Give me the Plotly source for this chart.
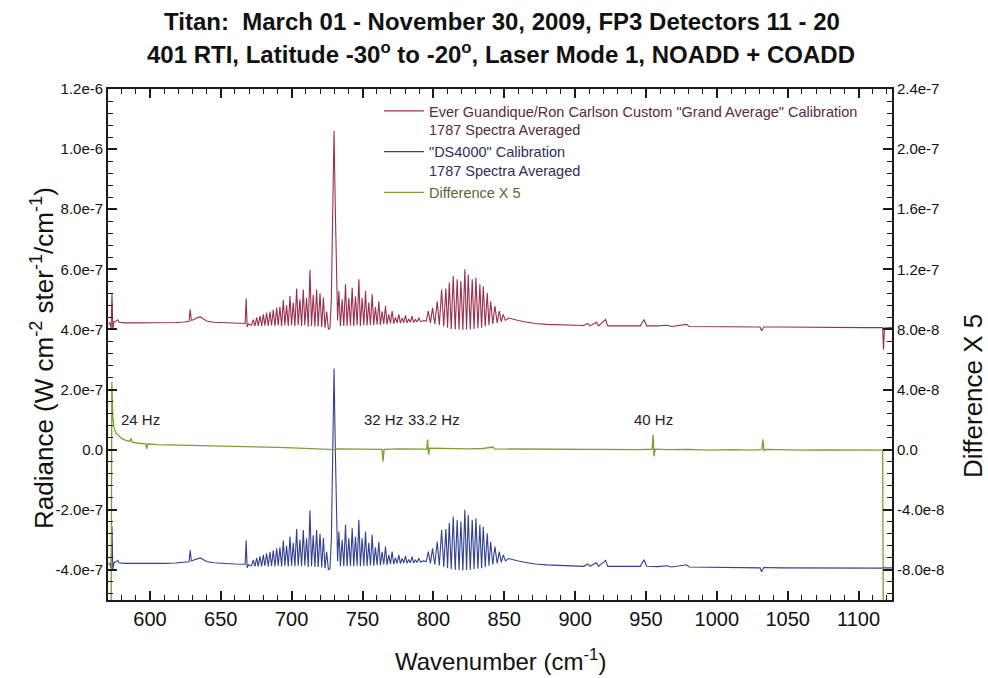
import plotly.graph_objects as go
import numpy as np

# ---------------- data ----------------
# wavenumbers (cm^-1) shared by the two calibrated spectra
WAVENUMBER = [
    570.8, 571.6, 572.6, 573.2, 573.8, 574.6, 576.0, 577.3, 578.2, 582,
    590, 600, 610, 618, 624, 627.6, 628.4, 629.2, 631, 633.5,
    635.5, 637.5, 640, 645, 652, 660, 667.2, 667.9, 668.6, 669.5,
    670.8, 671.7, 672.9, 674.1, 675.3, 676.4, 677.6, 678.8, 680.0, 681.1,
    682.3, 683.5, 684.7, 685.8, 687.0, 688.2, 689.4, 690.5, 691.7, 692.9,
    694.1, 695.2, 696.4, 697.6, 698.8, 699.9, 701.1, 702.3, 703.5, 704.6,
    705.8, 707.0, 708.2, 709.3, 710.5, 711.7, 712.9, 714.0, 715.2, 716.4,
    717.6, 718.7, 720.0, 721.2, 722.4, 723.5, 724.7, 725.9, 727.0, 728.0,
    729.0, 729.9, 730.8, 731.7, 732.4, 733.3, 734.4, 735.6, 736.8, 738.0,
    739.1, 740.3, 741.5, 742.7, 743.8, 745.0, 746.2, 747.4, 748.5, 749.7,
    750.9, 752.1, 753.2, 754.4, 755.6, 756.8, 757.9, 759.1, 760.3, 761.5,
    762.6, 763.8, 765.0, 766.2, 767.3, 768.5, 769.7, 770.9, 772.0, 773.2,
    774.4, 775.6, 776.7, 777.9, 779.1, 780.3, 781.4, 782.6, 783.8, 785.0,
    786.1, 787.3, 788.5, 789.7, 790.9, 793, 795.0, 796.4, 797.9, 799.4,
    801.0, 802.7, 804.2, 805.8, 807.3, 808.8, 810.0, 811.2, 812.6, 814.0,
    815.4, 816.8, 818.1, 819.4, 820.8, 822.2, 823.4, 824.6, 826.0, 827.4,
    828.7, 830.0, 831.4, 832.8, 834.0, 835.2, 836.6, 838.0, 839.2, 840.4,
    841.9, 843.4, 845.0, 846.5, 847.9, 849.3, 850.8, 853, 856, 860,
    865, 872, 880, 890, 900, 906, 909.0, 910.5, 915.0, 916.5,
    921.5, 923.0, 930, 938, 946, 948.6, 950.5, 958, 965, 968,
    978.6, 980.5, 990, 1000, 1012, 1022, 1030.5, 1031.6, 1033, 1045,
    1060, 1075, 1090, 1105, 1117.0, 1117.6, 1118.3, 1123.6,
]

# "Grand Average" calibration radiance, in units of 1e-7 W cm^-2 ster^-1/cm^-1
GRAND_AVG_E7 = [
    4.20, 4.22, 4.05, 5.20, 4.00, 4.25, 4.27, 4.32, 4.24, 4.22,
    4.22, 4.22, 4.23, 4.23, 4.25, 4.27, 4.67, 4.30, 4.33, 4.40,
    4.42, 4.36, 4.28, 4.24, 4.22, 4.21, 4.20, 5.03, 4.08, 4.18,
    4.14, 4.14, 4.33, 4.12, 4.40, 4.12, 4.45, 4.12, 4.50, 4.13,
    4.55, 4.12, 4.60, 4.13, 4.65, 4.12, 4.72, 4.14, 4.75, 4.12,
    4.98, 4.14, 4.80, 4.12, 5.11, 4.14, 4.90, 4.12, 5.36, 4.14,
    5.00, 4.12, 5.33, 4.14, 5.05, 4.10, 5.98, 4.12, 5.15, 4.10,
    5.33, 4.10, 5.20, 4.08, 5.06, 4.06, 4.60, 4.00, 4.05, 5.00,
    8.00, 10.60, 8.00, 5.30, 4.30, 5.28, 4.12, 5.00, 4.12, 5.50,
    4.12, 5.05, 4.13, 5.39, 4.12, 5.10, 4.14, 5.67, 4.12, 5.05,
    4.14, 5.28, 4.13, 4.90, 4.15, 5.17, 4.14, 4.75, 4.16, 4.94,
    4.15, 4.60, 4.18, 4.78, 4.17, 4.50, 4.20, 4.61, 4.19, 4.40,
    4.22, 4.50, 4.21, 4.38, 4.23, 4.47, 4.22, 4.35, 4.24, 4.44,
    4.23, 4.33, 4.25, 4.39, 4.26, 4.30, 4.28, 4.61, 4.22, 4.72,
    4.18, 4.94, 4.15, 5.33, 4.10, 5.36, 4.06, 5.56, 4.02, 5.78,
    4.00, 5.67, 4.00, 5.61, 3.98, 6.00, 4.00, 5.83, 4.00, 5.67,
    4.02, 5.72, 4.04, 5.50, 4.06, 5.44, 4.10, 5.22, 4.14, 4.94,
    4.18, 4.78, 4.22, 4.61, 4.25, 4.50, 4.30, 4.38, 4.34, 4.30,
    4.25, 4.20, 4.17, 4.15, 4.13, 4.13, 4.20, 4.12, 4.24, 4.12,
    4.33, 4.12, 4.12, 4.13, 4.12, 4.33, 4.12, 4.12, 4.14, 4.10,
    4.17, 4.10, 4.10, 4.09, 4.09, 4.08, 4.08, 3.96, 4.08, 4.08,
    4.07, 4.07, 4.06, 4.06, 4.06, 3.33, 4.05, 4.06,
]

# "DS4000" calibration radiance (plotted offset), units of 1e-7
DS4000_E7 = [
    -3.80, -3.78, -3.95, -2.55, -4.00, -3.75, -3.73, -3.68, -3.76, -3.78,
    -3.78, -3.79, -3.78, -3.77, -3.75, -3.73, -3.35, -3.70, -3.67, -3.62,
    -3.60, -3.65, -3.72, -3.76, -3.79, -3.80, -3.81, -3.02, -3.93, -3.83,
    -3.86, -3.86, -3.67, -3.88, -3.60, -3.88, -3.55, -3.88, -3.50, -3.87,
    -3.45, -3.88, -3.40, -3.87, -3.35, -3.88, -3.28, -3.86, -3.25, -3.88,
    -3.02, -3.86, -3.20, -3.88, -2.89, -3.86, -3.10, -3.88, -2.64, -3.86,
    -3.00, -3.88, -2.67, -3.86, -2.95, -3.90, -2.02, -3.88, -2.85, -3.90,
    -2.67, -3.90, -2.80, -3.92, -2.94, -3.94, -3.40, -4.00, -3.95, -3.00,
    0.00, 2.70, 0.00, -2.70, -3.70, -2.72, -3.88, -3.00, -3.88, -2.50,
    -3.88, -2.95, -3.87, -2.61, -3.88, -2.90, -3.86, -2.33, -3.88, -2.95,
    -3.86, -2.72, -3.87, -3.10, -3.85, -2.83, -3.86, -3.25, -3.84, -3.06,
    -3.85, -3.40, -3.82, -3.22, -3.83, -3.50, -3.80, -3.39, -3.81, -3.60,
    -3.78, -3.50, -3.79, -3.62, -3.77, -3.53, -3.78, -3.65, -3.76, -3.56,
    -3.77, -3.67, -3.75, -3.61, -3.74, -3.70, -3.72, -3.39, -3.78, -3.28,
    -3.82, -3.06, -3.85, -2.67, -3.90, -2.64, -3.94, -2.44, -3.98, -2.22,
    -4.00, -2.33, -4.00, -2.39, -4.02, -2.00, -4.00, -2.17, -4.00, -2.33,
    -3.98, -2.28, -3.96, -2.50, -3.94, -2.56, -3.90, -2.78, -3.86, -3.06,
    -3.82, -3.22, -3.78, -3.39, -3.75, -3.50, -3.70, -3.62, -3.66, -3.70,
    -3.75, -3.80, -3.83, -3.85, -3.87, -3.88, -3.80, -3.88, -3.76, -3.88,
    -3.68, -3.88, -3.88, -3.87, -3.88, -3.66, -3.88, -3.89, -3.86, -3.90,
    -3.83, -3.90, -3.91, -3.91, -3.92, -3.92, -3.93, -4.06, -3.92, -3.93,
    -3.93, -3.94, -3.94, -3.95, -3.94, -3.90, -3.93, -3.93,
]

# Difference x 5 (right axis), units of 1e-9
DIFF_WAVENUMBER = [
    572.6, 573.1, 573.8, 574.6, 576, 577.5, 580, 583, 585.8, 586.6,
    587.4, 592, 597.0, 597.7, 598.4, 605, 615, 625, 638, 650,
    662, 675, 690, 705, 718, 729, 730, 731, 742, 755,
    763.8, 764.5, 765.2, 775, 785, 795.3, 795.9, 796.6, 797.4, 805,
    815, 825, 835, 842, 843, 855, 870, 885, 900, 915,
    930, 945, 954.4, 955.0, 955.7, 956.5, 965, 980, 995, 1010,
    1025, 1031.8, 1032.5, 1033.3, 1034.2, 1045, 1060, 1075, 1090, 1105,
    1117.0, 1117.5,
]
DIFF_X5_E9 = [
    -120, 45, 22, 15, 11, 9.5, 7.5, 6.2, 5.5, 7.5,
    5.0, 4.3, 3.9, 0.5, 3.8, 3.4, 3.2, 3.0, 2.9, 2.7,
    2.5, 2.0, 1.5, 1.0, 0.7, 0.4, 0.0, 0.5, 0.3, 0.2,
    0.2, -8.0, 0.2, 0.5, 0.4, 0.4, 6.7, -3.3, 1.0, 0.8,
    0.7, 0.6, 0.8, 1.8, 0.5, 0.4, 0.3, 0.2, 0.0, 0.2,
    -0.2, 0.0, 0.3, 10.0, -4.4, 0.4, 0.0, 0.2, -0.3, 0.0,
    -0.3, 0.0, 7.0, -1.0, 0.2, -0.2, -0.3, -0.2, -0.4, -0.4,
    -0.3, -120,
]

assert len(WAVENUMBER) == len(GRAND_AVG_E7) == len(DS4000_E7)
assert len(DIFF_WAVENUMBER) == len(DIFF_X5_E9)

LEFT_TICK_VALS = [-4e-7, -2e-7, 0, 2e-7, 4e-7, 6e-7, 8e-7, 1.0e-6, 1.2e-6]
LEFT_TICK_TEXT = ["-4.0e-7", "-2.0e-7", "0.0", "2.0e-7", "4.0e-7", "6.0e-7",
                  "8.0e-7", "1.0e-6", "1.2e-6"]
RIGHT_TICK_VALS = [-8e-8, -4e-8, 0, 4e-8, 8e-8, 1.2e-7, 1.6e-7, 2.0e-7, 2.4e-7]
RIGHT_TICK_TEXT = ["-8.0e-8", "-4.0e-8", "0.0", "4.0e-8", "8.0e-8", "1.2e-7",
                   "1.6e-7", "2.0e-7", "2.4e-7"]

HZ_LABELS = ["24 Hz", "32 Hz", "33.2 Hz", "40 Hz"]
HZ_LABEL_WN = [593, 764.5, 800.5, 955.5]
HZ_LABEL_Y = [1.0e-7, 1.0e-7, 1.0e-7, 1.0e-7]

X_RANGE = [570.4, 1123.6]
Y_RANGE = [-5e-7, 1.2e-6]
Y2_RANGE = [-1.0e-7, 2.4e-7]

# ---------------- styling ----------------
FONT = "Liberation Sans, Arial, Helvetica, sans-serif"
RED = "#9a2e4c"
BLUE = "#33408e"
GREEN = "#7aa034"
AXIS = "#1a1a1a"

wn = np.array(WAVENUMBER)
red = np.array(GRAND_AVG_E7) * 1e-7
blue = np.array(DS4000_E7) * 1e-7
diff = np.array(DIFF_X5_E9) * 1e-9

fig = go.Figure()
fig.add_trace(go.Scatter(
    x=wn, y=red, mode="lines", line=dict(color=RED, width=1.1),
    name='<span style="color:#5c2a3a">Ever Guandique/Ron Carlson Custom "Grand Average" Calibration'
         '<br>1787 Spectra Averaged</span>'))
fig.add_trace(go.Scatter(
    x=wn, y=blue, mode="lines", line=dict(color=BLUE, width=1.1),
    name='<span style="color:#2c2f5c">"DS4000" Calibration<br>1787 Spectra Averaged</span>'))
fig.add_trace(go.Scatter(
    x=DIFF_WAVENUMBER, y=diff, mode="lines", line=dict(color=GREEN, width=1.3),
    name='<span style="color:#55692c">Difference X 5</span>', yaxis="y2"))
# empty helper traces so the minor-tick overlay axes get drawn
fig.add_trace(go.Scatter(x=[], y=[], xaxis="x2", yaxis="y", showlegend=False,
                         hoverinfo="skip"))
fig.add_trace(go.Scatter(x=[], y=[], xaxis="x", yaxis="y3", showlegend=False,
                         hoverinfo="skip"))

L, R, T, B = 108, 96, 89, 78
W, H = 988, 678
pw, ph = W - L - R, H - T - B


def px_x(p):
    return (p - L) / pw


def px_y(p):
    return (H - B - p) / ph


annotations = []
annotations.append(dict(
    text="<b>Titan:  March 01 - November 30, 2009, FP3 Detectors 11 - 20</b>",
    x=px_x(502), y=px_y(22), xref="paper", yref="paper", showarrow=False,
    xanchor="center", yanchor="middle", font=dict(family=FONT, size=24, color="#111")))
annotations.append(dict(
    text="<b>401 RTI, Latitude -30<sup>o</sup> to -20<sup>o</sup>, Laser Mode 1, NOADD + COADD</b>",
    x=px_x(501), y=px_y(53), xref="paper", yref="paper", showarrow=False,
    xanchor="center", yanchor="middle", font=dict(family=FONT, size=24, color="#111")))
annotations.append(dict(
    text="Radiance (W cm<sup>-2</sup> ster<sup>-1</sup>/cm<sup>-1</sup>)",
    x=px_x(42), y=px_y(358), xref="paper", yref="paper", showarrow=False,
    textangle=-90, xanchor="center", yanchor="middle",
    font=dict(family=FONT, size=26, color="#111")))
annotations.append(dict(
    text="Difference X 5",
    x=px_x(973), y=px_y(396), xref="paper", yref="paper", showarrow=False,
    textangle=-90, xanchor="center", yanchor="middle",
    font=dict(family=FONT, size=26, color="#111")))
annotations.append(dict(
    text="Wavenumber (cm<sup>-1</sup>)",
    x=px_x(500), y=px_y(660), xref="paper", yref="paper", showarrow=False,
    xanchor="center", yanchor="middle", font=dict(family=FONT, size=24, color="#111")))
for t, xv, yv in zip(HZ_LABELS, HZ_LABEL_WN, HZ_LABEL_Y):
    annotations.append(dict(text=t, x=xv, y=yv, xref="x", yref="y", showarrow=False,
                            xanchor="center", yanchor="middle",
                            font=dict(family=FONT, size=15, color="#222")))

fig.update_layout(
    width=W, height=H,
    margin=dict(l=L, r=R, t=T, b=B),
    paper_bgcolor="white", plot_bgcolor="white",
    font=dict(family=FONT, color="#111"),
    showlegend=True,
    legend=dict(x=px_x(379), y=px_y(95), xanchor="left", yanchor="top",
                bgcolor="rgba(0,0,0,0)", borderwidth=0, itemwidth=40,
                font=dict(family=FONT, size=14.5), valign="top",
                tracegroupgap=0),
    annotations=annotations,
    # major x ticks (bottom + mirrored on top)
    xaxis=dict(range=X_RANGE, tickmode="linear", tick0=600, dtick=50,
               ticks="inside", ticklen=9, tickwidth=1.6, tickcolor=AXIS,
               showline=True, linecolor=AXIS, linewidth=1.8, mirror="ticks",
               showgrid=False, zeroline=False,
               tickfont=dict(family=FONT, size=20, color="#111")),
    # minor x ticks every 10 cm^-1
    xaxis2=dict(range=X_RANGE, overlaying="x", anchor="y", side="bottom",
                tickmode="linear", tick0=600, dtick=10,
                ticks="inside", ticklen=5, tickwidth=1.3, tickcolor=AXIS,
                showticklabels=False, showline=False, mirror="ticks",
                showgrid=False, zeroline=False),
    yaxis=dict(range=Y_RANGE, tickmode="array", tickvals=LEFT_TICK_VALS,
               ticktext=LEFT_TICK_TEXT, ticks="inside", ticklen=9, tickwidth=1.6,
               tickcolor=AXIS,
               showline=True, linecolor=AXIS, linewidth=1.8,
               showgrid=False, zeroline=False,
               tickfont=dict(family=FONT, size=15, color="#111")),
    yaxis2=dict(range=Y2_RANGE, overlaying="y", side="right",
                tickmode="array", tickvals=RIGHT_TICK_VALS, ticktext=RIGHT_TICK_TEXT,
                ticks="inside", ticklen=9, tickwidth=1.6, tickcolor=AXIS,
                showline=True, linecolor=AXIS, linewidth=1.8,
                showgrid=False, zeroline=False,
                tickfont=dict(family=FONT, size=15, color="#111")),
    # minor y ticks (left, mirrored to the right: both scales share the same spacing)
    yaxis3=dict(range=Y_RANGE, overlaying="y", anchor="x", side="left",
                tickmode="linear", tick0=0, dtick=4e-8,
                ticks="inside", ticklen=5, tickwidth=1.3, tickcolor=AXIS,
                showticklabels=False, showline=False, mirror="ticks",
                showgrid=False, zeroline=False),
)

fig.write_html("out.html")
